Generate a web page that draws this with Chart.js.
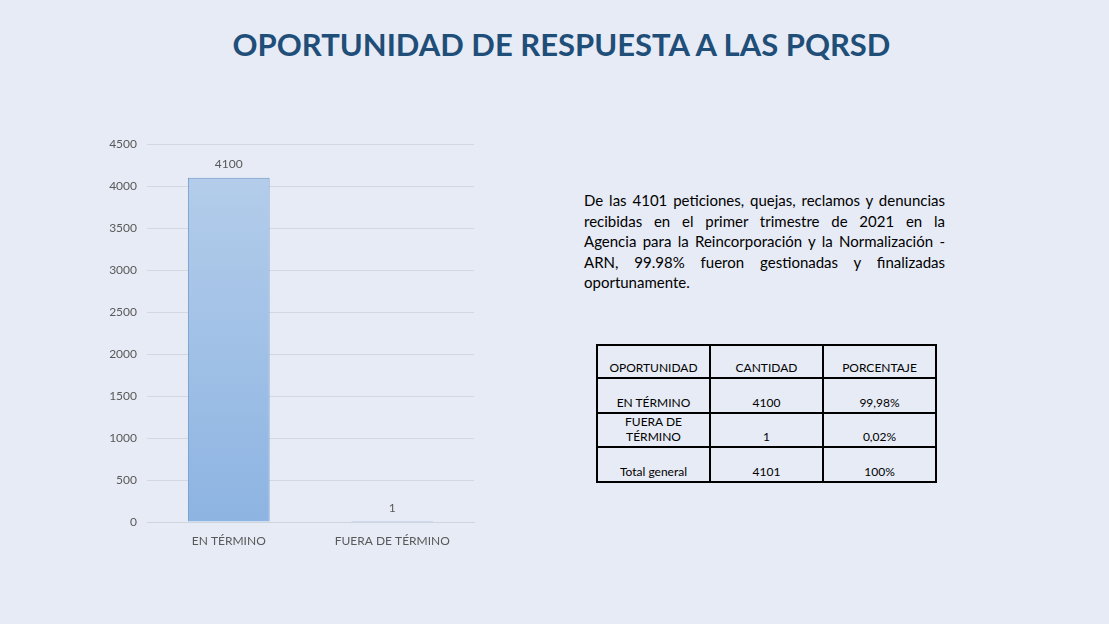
<!DOCTYPE html>
<html>
<head>
<meta charset="utf-8">
<script src="https://cdn.jsdelivr.net/npm/chart.js@4"></script>
<style>
  body { margin: 0; width: 1109px; height: 624px; background: #e7ebf5; font-family: Lato, "Liberation Sans", sans-serif; position: relative; overflow: hidden; }
  #title { position: absolute; left: 7px; width: 1109px; top: 25px; text-align: center; font-size: 31px; font-weight: bold; color: #1f4e79; }
  #chartBox { position: absolute; left: 95px; top: 127px; width: 380px; height: 435px; }
  #note { position: absolute; left: 584px; top: 190px; width: 361px; font-size: 15px; line-height: 20.5px; color: #000; }
  #note div { text-align: justify; text-align-last: justify; white-space: nowrap; }
  #note div.last { text-align-last: left; }
  #tbl { position: absolute; left: 596px; top: 344px; border-collapse: collapse; font-size: 12px; color: #000; }
  #tbl td { border: 2px solid #000; width: 107px; text-align: center; vertical-align: bottom; padding: 0 2px 2px 2px; line-height: 15px; }
</style>
</head>
<body>
<div id="title">OPORTUNIDAD DE RESPUESTA A LAS PQRSD</div>
<div id="chartBox"><canvas id="bars"></canvas></div>
<div id="note"></div>
<table id="tbl"></table>
<script>
// chart data
const categories = ["EN TÉRMINO", "FUERA DE TÉRMINO"];
const values = [4100, 1];
const yTicks = [0, 500, 1000, 1500, 2000, 2500, 3000, 3500, 4000, 4500];

// table data
const tableHeader = ["OPORTUNIDAD", "CANTIDAD", "PORCENTAJE"];
const tableRows = [
    ["EN TÉRMINO", "4100", "99,98%"],
    ["FUERA DE<br>TÉRMINO", "1", "0,02%"],
    ["Total general", "4101", "100%"]
];
const rowHeights = [33, 35, 34, 35];

const noteLines = [
    "De las 4101 peticiones, quejas, reclamos y denuncias",
    "recibidas en el primer trimestre de 2021 en la",
    "Agencia para la Reincorporación y la Normalización -",
    "ARN, 99.98% fueron gestionadas y finalizadas",
    "oportunamente."
];

// paragraph, one div per line so the breaks match
let note = document.getElementById("note");
noteLines.forEach((line, i) => {
    let d = document.createElement("div");
    d.textContent = line;
    if (i === noteLines.length - 1) d.className = "last";
    note.appendChild(d);
});

// table
let tbl = document.getElementById("tbl");
[tableHeader].concat(tableRows).forEach((row, i) => {
    let tr = document.createElement("tr");
    tr.style.height = rowHeights[i] + "px";
    row.forEach(cell => {
        let td = document.createElement("td");
        td.innerHTML = cell;
        tr.appendChild(td);
    });
    tbl.appendChild(tr);
});

function barGradient(context) {
    let chart = context.chart;
    let area = chart.chartArea;
    if (!area) return "#a6c2e8";
    let g = chart.ctx.createLinearGradient(0, area.top, 0, area.bottom);
    g.addColorStop(0, "#b7cfeb"); // lighter at top
    g.addColorStop(1, "#8db4e2"); // darker at bottom
    return g;
}

// value labels above the bars
const valueLabels = {
    id: "valueLabels",
    afterDatasetsDraw(chart) {
        let ctx = chart.ctx;
        let meta = chart.getDatasetMeta(0);
        ctx.save();
        ctx.font = "12px Lato, 'Liberation Sans', sans-serif";
        ctx.fillStyle = "#595959";
        ctx.textAlign = "center";
        ctx.textBaseline = "middle";
        meta.data.forEach((bar, i) => {
            ctx.fillText(String(values[i]), bar.x, bar.y - 14);
        });
        ctx.restore();
    }
};

new Chart(document.getElementById("bars"), {
    type: "bar",
    data: {
        labels: categories,
        datasets: [{
            data: values,
            backgroundColor: barGradient,
            borderColor: "#6a97cc",
            borderWidth: 1,
            barPercentage: 0.5,
            categoryPercentage: 1
        }]
    },
    plugins: [valueLabels],
    options: {
        responsive: true,
        maintainAspectRatio: false,
        animation: false,
        layout: { padding: { top: 11, right: 1 } },
        plugins: {
            legend: { display: false },
            tooltip: { enabled: false }
        },
        scales: {
            x: {
                grid: { display: false, drawTicks: false },
                border: { color: "#d0d4dc" },
                ticks: { color: "#595959", font: { family: "Lato", size: 12 }, padding: 12 },
                afterFit: axis => { axis.height = 40; }
            },
            y: {
                min: 0,
                max: 4500,
                afterBuildTicks: axis => { axis.ticks = yTicks.map(v => ({ value: v })); },
                grid: { color: "#d3d7df", drawTicks: false },
                border: { display: false },
                ticks: {
                    color: "#595959",
                    font: { family: "Lato", size: 12 },
                    padding: 10,
                    callback: v => String(v)
                },
                afterFit: axis => { axis.width = 52; }
            }
        }
    }
});
</script>
</body>
</html>
